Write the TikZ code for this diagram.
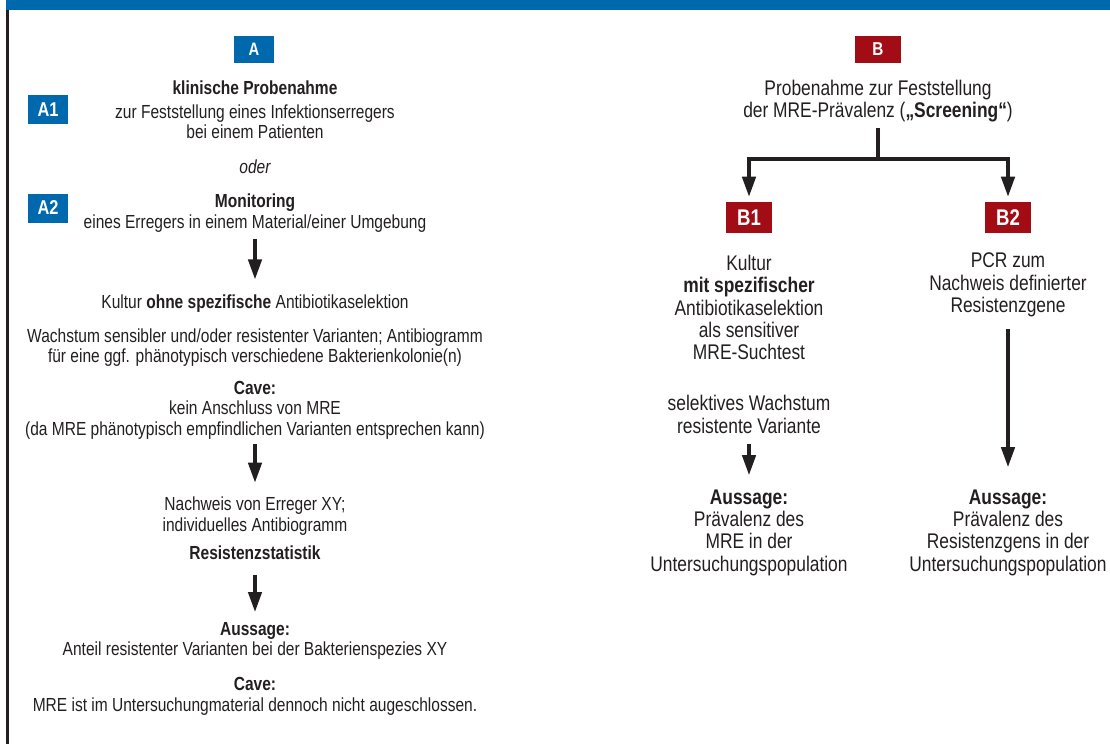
\documentclass[tikz,border=0pt]{standalone}
\usepackage{fontspec}
\setmainfont{Liberation Sans}[FakeStretch=0.82]
\usepackage{xcolor}
\usepackage{tikz}
\usetikzlibrary{arrows.meta, positioning, calc}
\definecolor{hdrblue}{RGB}{0,104,173}
\definecolor{boxred}{RGB}{162,12,20}
\definecolor{ink}{RGB}{35,31,32}
\tikzstyle{arrow} = [line width=2.6pt, draw=ink, -{Triangle[length=15pt 0 0, width=10pt 0 0]}]
\tikzstyle{branch} = [line width=2.6pt, draw=ink, line join=miter]
\tikzstyle{badge} = [rectangle, inner sep=0pt, text=white, minimum width=30pt, minimum height=20.25pt]
\tikzstyle{txtA} = [align=center, inner sep=0pt, text=ink, font=\fontsize{14.2}{15.4}\selectfont]
\tikzstyle{txtB} = [align=center, inner sep=0pt, text=ink, font=\fontsize{15.9}{16.8}\selectfont]

\begin{document}
\begin{tikzpicture}[x=0.75pt, y=-0.75pt]
    \useasboundingbox (0,0) rectangle (1110,744);
    % Rahmen
    \fill[hdrblue] (6,0) rectangle (1110,10);
    \fill[ink] (6,10) rectangle (8.5,744);

    % Weg A
    \node (boxA) [badge, fill=hdrblue, font=\fontsize{13.5}{14}\selectfont\bfseries] at (254,49.5) {A};
    \node (klin) [txtA] at (255,110) {\textbf{klinische Probenahme}\\[2.25pt]zur Feststellung eines Infektionserregers\\bei einem Patienten};
    \node (boxA1) [badge, fill=hdrblue, minimum height=21.75pt, font=\fontsize{15}{16}\selectfont\bfseries] at (48,109.5) {A1};
    \node (oder) [txtA, font=\fontsize{14.2}{15.4}\selectfont\itshape] at (255,166.5) {oder};
    \node (mon) [txtA] at (255,213) {\textbf{Monitoring}\\eines Erregers in einem Material/einer Umgebung};
    \node (boxA2) [badge, fill=hdrblue, minimum height=21.75pt, font=\fontsize{15}{16}\selectfont\bfseries] at (48,208) {A2};

    \node (kultur) [txtA] at (255,303.5) {Kultur \textbf{ohne spezifische} Antibiotikaselektion};
    \node (wachs) [txtA] at (255,347.5) {Wachstum sensibler und/oder resistenter Varianten; Antibiogramm\\für eine ggf. phänotypisch verschiedene Bakterienkolonie(n)};
    \node (cave1) [txtA] at (255,410) {\textbf{Cave:}\\kein Anschluss von MRE\\(da MRE phänotypisch empfindlichen Varianten entsprechen kann)};
    \node (nachweis) [txtA] at (255,516) {Nachweis von Erreger XY;\\individuelles Antibiogramm};
    \node (stat) [txtA, font=\fontsize{14.2}{15.4}\selectfont\bfseries] at (255,552.5) {Resistenzstatistik};
    \node (aussA) [txtA] at (255,641) {\textbf{Aussage:}\\Anteil resistenter Varianten bei der Bakterienspezies XY};
    \node (caveA) [txtA] at (255,696.5) {\textbf{Cave:}\\MRE ist im Untersuchungmaterial dennoch nicht augeschlossen.};

    \draw [arrow, shorten <=5.25pt, shorten >=11.25pt] (mon) -- (kultur);
    \draw [arrow, shorten <=3.75pt, shorten >=10.5pt] (cave1) -- (nachweis);
    \draw [arrow, shorten <=11.25pt, shorten >=7.5pt] (stat) -- (aussA);

    % Weg B
    \node (boxB) [badge, fill=boxred, minimum width=34.5pt, font=\fontsize{14}{15}\selectfont\bfseries] at (878,49.5) {B};
    \node (screen) [txtB] at (878,101) {Probenahme zur Feststellung\\der MRE-Prävalenz (\textbf{„Screening“})};
    \coordinate (split) at (878,159);
    \node (boxB1) [badge, fill=boxred, minimum width=34.5pt, minimum height=23.25pt, font=\fontsize{17}{18}\selectfont\bfseries] at (749,217.5) {B1};
    \node (boxB2) [badge, fill=boxred, minimum width=34.5pt, minimum height=23.25pt, font=\fontsize{17}{18}\selectfont\bfseries] at (1008,217.5) {B2};

    \draw [branch, shorten <=4.5pt] (screen) -- (split);
    \draw [arrow, shorten >=3.75pt] (split) -| (boxB1);
    \draw [arrow, shorten >=3.75pt] (split) -| (boxB2);

    % B1: Kultur
    \node (kulB1) [txtB] at (749,307.5) {Kultur\\\textbf{mit spezifischer}\\Antibiotikaselektion\\als sensitiver\\MRE-Suchtest};
    \node (selB1) [txtB] at (749,414.5) {selektives Wachstum\\resistente Variante};
    \node (aussB1) [txtB] at (749,532.5) {\textbf{Aussage:}\\Prävalenz des\\MRE in der\\Untersuchungspopulation};
    \draw [arrow, shorten <=7.5pt, shorten >=10.5pt] (selB1) -- (aussB1);

    % B2: PCR
    \node (pcrB2) [txtB] at (1008,285) {PCR zum\\Nachweis definierter\\Resistenzgene};
    \node (aussB2) [txtB] at (1008,532.5) {\textbf{Aussage:}\\Prävalenz des\\Resistenzgens in der\\Untersuchungspopulation};
    \draw [arrow, shorten <=9pt, shorten >=16.5pt] (pcrB2) -- (aussB2);
\end{tikzpicture}
\end{document}
